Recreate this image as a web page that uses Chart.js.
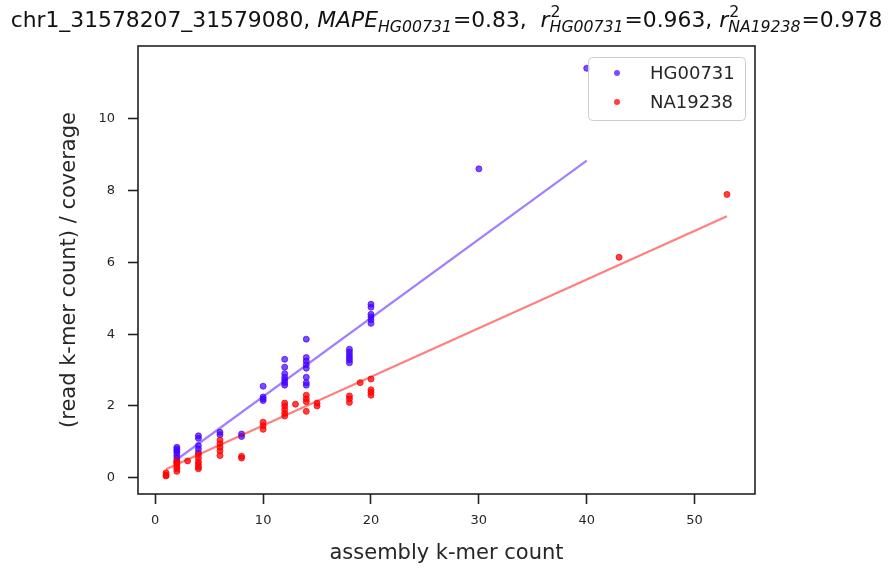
<!DOCTYPE html>
<html>
<head>
<meta charset="utf-8">
<script src="https://cdn.jsdelivr.net/npm/chart.js@4.4.0/dist/chart.umd.min.js"></script>
<style>
  html, body { margin: 0; padding: 0; background: #fff; }
</style>
</head>
<body>
<canvas id="myChart" width="888" height="569"></canvas>
<script>
// values
const hgX = [2, 2, 2, 2, 2, 2, 2, 4, 4, 4, 4, 4, 6, 6, 8, 8, 10, 10, 10, 10,
  12, 12, 12, 12, 12, 12, 12, 14, 14, 14, 14, 14, 14, 14, 14,
  18, 18, 18, 18, 18, 18, 20, 20, 20, 20, 20, 20, 30, 40];
const hgY = [0.85, 0.8, 0.75, 0.7, 0.62, 0.55, 0.45, 1.17, 1.1, 0.9, 0.8, 0.7, 1.27, 1.2, 1.22, 1.15, 2.55, 2.25, 2.2, 2.15,
  3.3, 3.08, 2.9, 2.8, 2.72, 2.65, 2.58, 3.86, 3.35, 3.25, 3.15, 3.05, 2.8, 2.65, 2.58,
  3.58, 3.5, 3.42, 3.35, 3.28, 3.2, 4.83, 4.75, 4.55, 4.48, 4.4, 4.3, 8.6, 11.4];

const naX = [1, 1, 1, 2, 2, 2, 2, 2, 2, 3, 4, 4, 4, 4, 4, 4, 6, 6, 6, 6, 6, 8, 8,
  10, 10, 10, 12, 12, 12, 12, 12, 13, 14, 14, 14, 14, 15, 15, 18, 18, 18, 19, 20, 20, 20, 20, 43, 53];
const naY = [0.14, 0.08, 0.05, 0.48, 0.42, 0.38, 0.3, 0.25, 0.18, 0.47, 0.65, 0.55, 0.45, 0.38, 0.3, 0.25, 1.05, 0.95, 0.85, 0.75, 0.62, 0.6, 0.55,
  1.55, 1.45, 1.35, 2.08, 2.0, 1.9, 1.8, 1.72, 2.05, 2.3, 2.2, 2.12, 1.85, 2.08, 2.0, 2.28, 2.2, 2.1, 2.65, 2.75, 2.45, 2.38, 2.3, 6.14, 7.89];

// fitted lines (end points)
const hgFitX = [2, 40];
const hgFitY = [0.51, 8.83];
const naFitX = [1, 53];
const naFitY = [0.24, 7.28];

const xTicks = [0, 10, 20, 30, 40, 50];
const yTicks = [0, 2, 4, 6, 8, 10];

const titleParts = [
  { t: 'chr1_31578207_31579080, ' },
  { t: 'MAPE', it: true },
  { sub: 'HG00731' },
  { t: '=0.83,  ' },
  { t: 'r', it: true },
  { sup: '2', sub: 'HG00731' },
  { t: '=0.963, ' },
  { t: 'r', it: true },
  { sup: '2', sub: 'NA19238' },
  { t: '=0.978' }
];

const FONT = '"DejaVu Sans"';
const TXT = '#262626';

function pts(xs, ys) {
  return xs.map((x, i) => ({ x: x, y: ys[i] }));
}

// title with italic + sub/superscripts
function titleRun(ctx, S, x0, base, draw) {
  let x = x0;
  const s = S * 0.72;
  titleParts.forEach(p => {
    if (p.t) {
      ctx.font = (p.it ? 'italic ' : '') + S + 'px ' + FONT;
      if (draw) ctx.fillText(p.t, x, base);
      x += ctx.measureText(p.t).width;
    } else {
      let w = 0;
      if (p.sup) {
        ctx.font = s + 'px ' + FONT;
        if (draw) ctx.fillText(p.sup, x + 1, base - S * 0.45);
        w = Math.max(w, ctx.measureText(p.sup).width + 1);
      }
      ctx.font = 'italic ' + s + 'px ' + FONT;
      if (draw) ctx.fillText(p.sub, x, base + S * 0.24);
      w = Math.max(w, ctx.measureText(p.sub).width);
      x += w + 1;
    }
  });
  return x - x0;
}

const decor = {
  id: 'decor',
  afterDraw(chart) {
    const ctx = chart.ctx;
    const a = chart.chartArea;
    ctx.save();

    // frame
    ctx.strokeStyle = '#222';
    ctx.lineWidth = 1.6;
    ctx.strokeRect(a.left, a.top, a.right - a.left, a.bottom - a.top);

    // title
    ctx.fillStyle = '#111';
    ctx.textBaseline = 'alphabetic';
    ctx.textAlign = 'left';
    let S = 21;
    const w0 = titleRun(ctx, S, 0, 0, false);
    S = S * 872 / w0;
    const w = titleRun(ctx, S, 0, 0, false);
    titleRun(ctx, S, (a.left + a.right) / 2 - w / 2, 27, true);

    // legend
    const lx = 588.5, ly = 57.5, lw = 157, lh = 63;
    ctx.beginPath();
    ctx.roundRect(lx, ly, lw, lh, 4);
    ctx.fillStyle = 'rgba(255,255,255,0.8)';
    ctx.fill();
    ctx.strokeStyle = '#cccccc';
    ctx.lineWidth = 1;
    ctx.stroke();
    const items = chart.data.datasets.filter(d => !d.isFit);
    items.forEach((d, i) => {
      const y = 73 + 29 * i;
      ctx.beginPath();
      ctx.arc(617, y, 3, 0, Math.PI * 2);
      ctx.fillStyle = d.backgroundColor;
      ctx.fill();
      ctx.fillStyle = TXT;
      ctx.font = '18px ' + FONT;
      ctx.textBaseline = 'middle';
      ctx.fillText(d.label, 650, y + 1);
    });
    ctx.restore();
  }
};

const ctx = document.getElementById('myChart');
new Chart(ctx, {
  type: 'scatter',
  data: {
    datasets: [
      {
        label: 'HG00731',
        data: pts(hgX, hgY),
        backgroundColor: 'rgba(68,0,255,0.7)',
        borderColor: 'rgba(68,0,255,0.7)',
        borderWidth: 1,
        pointRadius: 3,
        order: 3
      },
      {
        label: 'NA19238',
        data: pts(naX, naY),
        backgroundColor: 'rgba(255,0,0,0.75)',
        borderColor: 'rgba(255,0,0,0.75)',
        borderWidth: 1,
        pointRadius: 3,
        order: 2
      },
      {
        label: 'fit HG00731',
        isFit: true,
        type: 'line',
        data: pts(hgFitX, hgFitY),
        borderColor: 'rgba(68,0,255,0.5)',
        borderWidth: 2.2,
        pointRadius: 0,
        fill: false,
        order: 1
      },
      {
        label: 'fit NA19238',
        isFit: true,
        type: 'line',
        data: pts(naFitX, naFitY),
        borderColor: 'rgba(255,0,0,0.5)',
        borderWidth: 2.2,
        pointRadius: 0,
        fill: false,
        order: 0
      }
    ]
  },
  options: {
    responsive: false,
    animation: false,
    layout: { padding: { left: 0, top: 46, right: 133, bottom: 0 } },
    plugins: {
      legend: { display: false },
      tooltip: { enabled: false },
      title: { display: false }
    },
    scales: {
      x: {
        type: 'linear',
        min: -1.6,
        max: 55.6,
        afterFit: s => { s.height = 75; },
        afterBuildTicks: s => { s.ticks = xTicks.map(v => ({ value: v })); },
        border: { display: false },
        grid: { drawOnChartArea: false, drawTicks: true, tickLength: 10, tickColor: '#222', tickWidth: 1.6 },
        ticks: { color: TXT, font: { family: FONT, size: 13 }, padding: 9, maxRotation: 0 },
        title: { display: true, text: 'assembly k-mer count', color: TXT, font: { family: FONT, size: 21 }, padding: { bottom: 3 } }
      },
      y: {
        type: 'linear',
        min: -0.45,
        max: 12.02,
        afterFit: s => { s.width = 138; },
        afterBuildTicks: s => { s.ticks = yTicks.map(v => ({ value: v })); },
        border: { display: false },
        grid: { drawOnChartArea: false, drawTicks: true, tickLength: 10, tickColor: '#222', tickWidth: 1.6 },
        ticks: { color: TXT, font: { family: FONT, size: 13 }, padding: 13 },
        title: { display: true, text: '(read k-mer count) / coverage', color: TXT, font: { family: FONT, size: 21 }, padding: { top: 57 } }
      }
    }
  },
  plugins: [decor]
});
</script>
</body>
</html>
